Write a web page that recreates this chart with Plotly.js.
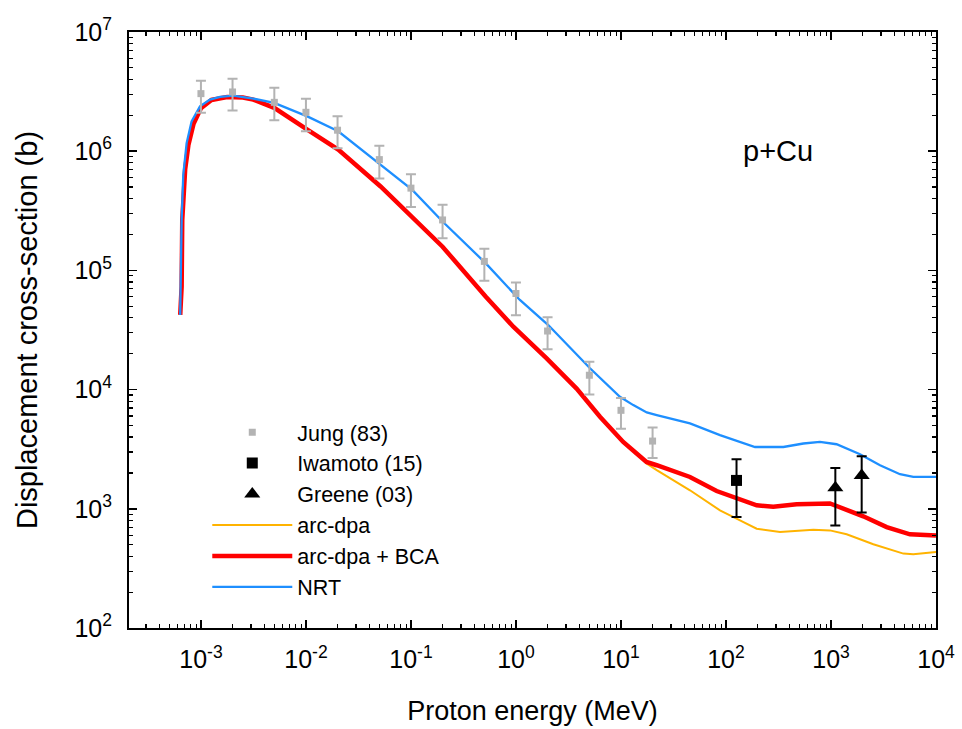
<!DOCTYPE html>
<html>
<head>
<meta charset="utf-8">
<script src="https://cdn.plot.ly/plotly-3.0.1.min.js"></script>
<style>html,body{margin:0;padding:0;background:#fff;}</style>
</head>
<body>
<div id="chart" style="width:962px;height:729px;"></div>
<script>
// ---- Data ----
// Jung (83) experimental points
const jungE   = [0.001, 0.002, 0.005, 0.01, 0.02, 0.05, 0.1, 0.2, 0.5, 1, 2, 5, 10, 20];
const jungSig = [3.04e6, 3.14e6, 2.57e6, 2.12e6, 1.5e6, 8.5e5, 4.9e5, 2.65e5, 1.19e5, 6.4e4, 3.1e4, 1.32e4, 6.7e3, 3.7e3];
const jungHi  = [3.9e6, 4.06e6, 3.4e6, 2.75e6, 1.96e6, 1.11e6, 6.4e5, 3.55e5, 1.52e5, 7.9e4, 4.05e4, 1.71e4, 8.5e3, 4.8e3];
const jungLo  = [2.1e6, 2.2e6, 1.82e6, 1.47e6, 1.06e6, 5.9e5, 3.4e5, 1.86e5, 8.2e4, 4.2e4, 2.18e4, 9.1e3, 4.7e3, 2.67e3];
// Iwamoto (15)
const iwaE = [126];
const iwaSig = [1.73e3];
const iwaHi = [2.6e3];
const iwaLo = [853];
// Greene (03)
const greE = [1100, 1960];
const greSig = [1.5e3, 1.9e3];
const greHi = [2.2e3, 2.76e3];
const greLo = [726, 930];

// NRT curve
const nrtE = [6.35e-4, 6.38e-4, 6.55e-4, 6.79e-4, 7.31e-4, 8.15e-4, 9.8e-4, 1.22e-3, 1.52e-3, 2.03e-3, 3.15e-3, 4.99e-3, 1.03e-2, 2.03e-2, 5.14e-2, 0.103, 0.2, 0.514, 1.09, 2.03, 5.07, 9.77, 13.1, 17.6, 21.9, 45.4, 87.7, 136, 189, 352, 546, 785, 1130, 1890, 2930, 4540, 6080, 10000];
const nrtSig = [4.23e4, 7.31e4, 2.65e5, 6.35e5, 1.17e6, 1.78e6, 2.38e6, 2.71e6, 2.85e6, 2.92e6, 2.76e6, 2.54e6, 1.96e6, 1.47e6, 7.71e5, 4.74e5, 2.57e5, 1.15e5, 5.65e4, 3.48e4, 1.51e4, 8.71e3, 7.41e3, 6.43e3, 6.11e3, 5.2e3, 4.15e3, 3.64e3, 3.3e3, 3.3e3, 3.53e3, 3.64e3, 3.48e3, 2.87e3, 2.32e3, 1.95e3, 1.85e3, 1.85e3];

// arc-dpa + BCA curve
const bcaE = [6.35e-4, 6.55e-4, 6.64e-4, 6.79e-4, 7.08e-4, 7.59e-4, 8.51e-4, 1e-3, 1.26e-3, 1.78e-3, 2.51e-3, 3.15e-3, 4.99e-3, 1.03e-2, 2.03e-2, 5.14e-2, 0.103, 0.2, 0.514, 0.944, 1.96, 3.78, 6.31, 10.5, 14.1, 17.5, 21.9, 45.4, 81.5, 126, 196, 282, 471, 977, 1310, 2030, 3390, 5650, 10000];
const bcaSig = [4.23e4, 7.31e4, 2.65e5, 4.46e5, 7.08e5, 1.12e6, 1.7e6, 2.29e6, 2.69e6, 2.85e6, 2.82e6, 2.71e6, 2.31e6, 1.52e6, 1.03e6, 5.06e5, 2.83e5, 1.58e5, 6.03e4, 3.37e4, 1.83e4, 1.02e4, 5.92e3, 3.64e3, 2.91e3, 2.47e3, 2.32e3, 1.85e3, 1.41e3, 1.22e3, 1.07e3, 1.04e3, 1.09e3, 1.11e3, 1.0e3, 865, 703, 611, 598];

// arc-dpa curve
const arcE = [6.35e-4, 6.55e-4, 6.64e-4, 6.79e-4, 7.08e-4, 7.59e-4, 8.51e-4, 1e-3, 1.26e-3, 1.78e-3, 2.51e-3, 3.15e-3, 4.99e-3, 1.03e-2, 2.03e-2, 5.14e-2, 0.103, 0.2, 0.514, 0.944, 1.96, 3.78, 6.31, 10.5, 14.1, 17.5, 21.9, 45.4, 87.7, 136, 196, 327, 679, 977, 1410, 2530, 4890, 6080, 10000];
const arcSig = [4.23e4, 7.31e4, 2.65e5, 4.46e5, 7.08e5, 1.12e6, 1.7e6, 2.29e6, 2.69e6, 2.85e6, 2.82e6, 2.71e6, 2.31e6, 1.52e6, 1.03e6, 5.06e5, 2.83e5, 1.58e5, 6.03e4, 3.37e4, 1.83e4, 1.02e4, 5.92e3, 3.64e3, 2.91e3, 2.4e3, 2.11e3, 1.43e3, 970, 800, 681, 638, 668, 659, 611, 504, 421, 415, 434];

// Tick labels
const xTickVals = [1e-3, 1e-2, 1e-1, 1, 10, 100, 1000, 10000];
const xTickText = ['10<sup>-3</sup>', '10<sup>-2</sup>', '10<sup>-1</sup>', '10<sup>0</sup>', '10<sup>1</sup>', '10<sup>2</sup>', '10<sup>3</sup>', '10<sup>4</sup>'];
const yTickVals = [1e2, 1e3, 1e4, 1e5, 1e6, 1e7];
const yTickText = ['10<sup>2</sup>', '10<sup>3</sup>', '10<sup>4</sup>', '10<sup>5</sup>', '10<sup>6</sup>', '10<sup>7</sup>'];

const FONT = 'Liberation Sans, Arial, sans-serif';
const sub = (a, b) => a.map((v, i) => v - b[i]);

const traces = [
  {x: arcE, y: arcSig, mode: 'lines', name: 'arc-dpa', line: {color: '#ffb300', width: 2}, legendrank: 4},
  {x: bcaE, y: bcaSig, mode: 'lines', name: 'arc-dpa + BCA', line: {color: '#ff0000', width: 4.5}, legendrank: 5},
  {x: nrtE, y: nrtSig, mode: 'lines', name: 'NRT', line: {color: '#1e8fff', width: 2.3}, legendrank: 6},
  {x: jungE, y: jungSig, mode: 'markers', name: 'Jung (83)', legendrank: 1,
   marker: {symbol: 'square', size: 7, color: '#b3b3b3'},
   error_y: {type: 'data', symmetric: false, array: sub(jungHi, jungSig), arrayminus: sub(jungSig, jungLo), color: '#b3b3b3', thickness: 2, width: 5}},
  {x: iwaE, y: iwaSig, mode: 'markers', name: 'Iwamoto (15)', legendrank: 2,
   marker: {symbol: 'square', size: 11, color: '#000'},
   error_y: {type: 'data', symmetric: false, array: sub(iwaHi, iwaSig), arrayminus: sub(iwaSig, iwaLo), color: '#000', thickness: 2, width: 5}},
  {x: greE, y: greSig, mode: 'markers', name: 'Greene (03)', legendrank: 3,
   marker: {symbol: 'triangle-up', size: 14, color: '#000'},
   error_y: {type: 'data', symmetric: false, array: sub(greHi, greSig), arrayminus: sub(greSig, greLo), color: '#000', thickness: 2, width: 5}}
];

const axisCommon = {
  type: 'log', showgrid: false, zeroline: false,
  showline: true, linecolor: '#000', linewidth: 2, mirror: 'allticks',
  ticks: 'inside', ticklen: 8, tickwidth: 1.5, tickcolor: '#000',
  tickmode: 'array',
  tickfont: {family: FONT, size: 25, color: '#000'},
  minor: {ticks: 'inside', ticklen: 4, tickwidth: 1.2, tickcolor: '#000', dtick: 'D1', showgrid: false}
};

const layout = {
  width: 962, height: 729,
  margin: {l: 129, r: 26, t: 32, b: 101},
  paper_bgcolor: '#fff', plot_bgcolor: '#fff',
  font: {family: FONT, color: '#000'},
  xaxis: Object.assign({}, axisCommon, {
    range: [-3.685, 4.0],
    tickvals: xTickVals, ticktext: xTickText,
    ticklabelstandoff: 8,
    title: {text: 'Proton energy (MeV)', font: {family: FONT, size: 27, color: '#000'}, standoff: 29}
  }),
  yaxis: Object.assign({}, axisCommon, {
    range: [2, 7],
    tickvals: yTickVals, ticktext: yTickText,
    ticklabelstandoff: 10,
    title: {text: 'Displacement cross-section (b)', font: {family: FONT, size: 29, color: '#000'}, standoff: 28}
  }),
  showlegend: true,
  legend: {
    x: 0.097, y: 0.363, xanchor: 'left', yanchor: 'top',
    bgcolor: 'rgba(0,0,0,0)', borderwidth: 0,
    font: {family: FONT, size: 21.5, color: '#000'},
    itemwidth: 80, traceorder: 'normal'
  },
  annotations: [
    {text: 'p+Cu', xref: 'paper', yref: 'paper', x: 0.804, y: 0.80, xanchor: 'center', yanchor: 'middle',
     showarrow: false, font: {family: FONT, size: 29, color: '#000'}}
  ]
};

Plotly.newPlot('chart', traces, layout, {displayModeBar: false, staticPlot: true});
</script>
</body>
</html>
